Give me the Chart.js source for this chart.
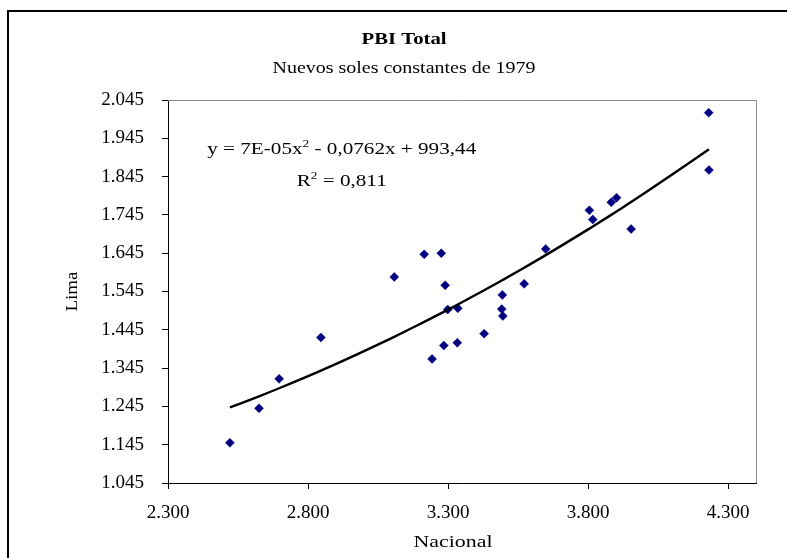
<!DOCTYPE html>
<html><head><meta charset="utf-8">
<script src="https://cdn.jsdelivr.net/npm/chart.js@4.4.1/dist/chart.umd.min.js"></script>
<style>html,body{margin:0;padding:0;background:#fff}canvas{display:block}</style>
</head><body>
<canvas id="c" width="787" height="558"></canvas>
<script>
// ---- Data ----
const nacional = [2521, 2625, 2697, 2846, 3108, 3215, 3276, 3290, 3299, 3335, 3243, 3285, 3333,
                  3429, 3494, 3492, 3496, 3572, 3649, 3805, 3817, 3883, 3902, 3954, 4231, 4232];
const lima     = [1150, 1240, 1317, 1425, 1583, 1642, 1645, 1561, 1498, 1501, 1369, 1404, 1411,
                  1435, 1536, 1499, 1481, 1565, 1656, 1757, 1733, 1778, 1790, 1708, 2012, 1862];
const xTicks = [2300, 2800, 3300, 3800, 4300];
const xTickLabels = ['2.300', '2.800', '3.300', '3.800', '4.300'];
const yTicks = [1045, 1145, 1245, 1345, 1445, 1545, 1645, 1745, 1845, 1945, 2045];
const yTickLabels = ['1.045', '1.145', '1.245', '1.345', '1.445', '1.545', '1.645', '1.745', '1.845', '1.945', '2.045'];
const chartTitle = 'PBI Total';
const chartSubtitle = 'Nuevos soles constantes de 1979';
const xTitle = 'Nacional';
const yTitle = 'Lima';
const eqParts = ['y = 7E-05x', '2', ' - 0,0762x + 993,44'];
const r2Parts = ['R', '2', ' = 0,811'];

// ---- Polynomial (order 2) least-squares trendline, as the spreadsheet computes it ----
function quadFit(xs, ys) {
  let S = [0,0,0,0,0], T = [0,0,0];
  for (let i = 0; i < xs.length; i++) {
    const x = xs[i], y = ys[i];
    let p = 1;
    for (let k = 0; k <= 4; k++) { S[k] += p; if (k <= 2) T[k] += p * y; p *= x; }
  }
  const A = [[S[0],S[1],S[2],T[0]],[S[1],S[2],S[3],T[1]],[S[2],S[3],S[4],T[2]]];
  for (let i = 0; i < 3; i++) {
    for (let j = i + 1; j < 3; j++) {
      const f = A[j][i] / A[i][i];
      for (let k = i; k < 4; k++) A[j][k] -= f * A[i][k];
    }
  }
  const c = [0,0,0];
  for (let i = 2; i >= 0; i--) {
    let s = A[i][3];
    for (let k = i + 1; k < 3; k++) s -= A[i][k] * c[k];
    c[i] = s / A[i][i];
  }
  return c;
}
const coef = quadFit(nacional, lima);
const trendX = nacional.slice().sort((a, b) => a - b);
const trendPts = trendX.map(x => ({ x: x, y: coef[0] + coef[1] * x + coef[2] * x * x }));

const FONT = '"Liberation Serif", "Times New Roman", serif';

// draw text centred at (cx, cy), stretched horizontally to a given width
function stretchText(ctx, text, cx, cy, font, width, rot) {
  ctx.save();
  ctx.font = font;
  const w = ctx.measureText(text).width;
  ctx.translate(cx, cy);
  if (rot) ctx.rotate(rot);
  ctx.scale(width / w, 1);
  ctx.textAlign = 'center';
  ctx.textBaseline = 'middle';
  ctx.fillText(text, 0, 0);
  ctx.restore();
}
// text with a superscript, stretched horizontally, baseline at cy
function supText(ctx, parts, cx, cy, size, supSize, width) {
  ctx.save();
  ctx.textBaseline = 'alphabetic';
  ctx.textAlign = 'left';
  ctx.font = size + 'px ' + FONT;
  const w0 = ctx.measureText(parts[0]).width, w2 = ctx.measureText(parts[2]).width;
  ctx.font = supSize + 'px ' + FONT;
  const w1 = ctx.measureText(parts[1]).width;
  const total = w0 + w1 + w2;
  ctx.translate(cx, cy);
  ctx.scale(width / total, 1);
  let x = -total / 2;
  ctx.font = size + 'px ' + FONT;
  ctx.fillText(parts[0], x, 0); x += w0;
  ctx.font = supSize + 'px ' + FONT;
  ctx.fillText(parts[1], x, -7); x += w1;
  ctx.font = size + 'px ' + FONT;
  ctx.fillText(parts[2], x, 0);
  ctx.restore();
}

const decor = {
  id: 'decor',
  beforeDraw(chart) {
    const ctx = chart.ctx;
    ctx.save();
    ctx.fillStyle = '#fff';
    ctx.fillRect(0, 0, chart.width, chart.height);
    ctx.restore();
  },
  beforeDatasetsDraw(chart) {
    const ctx = chart.ctx, a = chart.chartArea;
    ctx.save();
    ctx.strokeStyle = '#8c8c8c';
    ctx.lineWidth = 1;
    ctx.beginPath();
    ctx.moveTo(a.left, a.top + 0.5);
    ctx.lineTo(a.right + 0.5, a.top + 0.5);
    ctx.lineTo(a.right + 0.5, a.bottom);
    ctx.stroke();
    ctx.restore();
  },
  afterDraw(chart) {
    const ctx = chart.ctx, a = chart.chartArea;
    ctx.save();
    ctx.strokeStyle = '#000';
    ctx.lineWidth = 2;
    ctx.strokeRect(8, 11, 800, 600);
    ctx.fillStyle = '#000';
    stretchText(ctx, chartTitle, 404, 40, 'bold 17px ' + FONT, 85);
    stretchText(ctx, chartSubtitle, 404, 69, '16px ' + FONT, 263);
    stretchText(ctx, xTitle, 453, 543, '17px ' + FONT, 79);
    stretchText(ctx, yTitle, 72.5, (a.top + a.bottom) / 2, '17px ' + FONT, 40, -Math.PI / 2);
    supText(ctx, eqParts, 341.7, 154, 17.5, 11, 269);
    supText(ctx, r2Parts, 341.7, 186, 17.5, 11, 90);
    ctx.restore();
  }
};

new Chart(document.getElementById('c'), {
  type: 'scatter',
  data: {
    datasets: [
      {
        label: 'Lima vs Nacional',
        data: nacional.map((x, i) => ({ x: x, y: lima[i] })),
        pointStyle: 'rectRot',
        pointRadius: 4.5,
        pointBackgroundColor: '#000080',
        pointBorderColor: '#000080',
        pointBorderWidth: 0.5,
        order: 1
      },
      {
        label: 'Polinómica',
        type: 'line',
        data: trendPts,
        borderColor: '#000',
        borderWidth: 2.4,
        pointRadius: 0,
        cubicInterpolationMode: 'monotone',
        fill: false,
        order: 0
      }
    ]
  },
  options: {
    responsive: false,
    animation: false,
    devicePixelRatio: 1,
    layout: { padding: { left: 0, top: 100, right: 31, bottom: 0 } },
    plugins: { legend: { display: false }, tooltip: { enabled: false }, title: { display: false } },
    scales: {
      x: {
        type: 'linear',
        min: 2300, max: 4400,
        afterBuildTicks: s => { s.ticks = xTicks.map(v => ({ value: v })); },
        afterFit: s => { s.height = 75; },
        ticks: {
          callback: v => xTickLabels[xTicks.indexOf(v)],
          font: { family: FONT, size: 19 }, color: '#000', padding: 13, maxRotation: 0, autoSkip: false
        },
        grid: { drawOnChartArea: false, drawTicks: true, tickLength: 6, color: '#000' },
        border: { display: true, color: '#000', width: 1 }
      },
      y: {
        type: 'linear',
        min: 1045, max: 2045,
        afterBuildTicks: s => { s.ticks = yTicks.map(v => ({ value: v })); },
        afterFit: s => { s.width = 168; },
        ticks: {
          callback: v => yTickLabels[yTicks.indexOf(v)],
          font: { family: FONT, size: 19 }, color: '#000', padding: 18, autoSkip: false
        },
        grid: { drawOnChartArea: false, drawTicks: true, tickLength: 6, color: '#000' },
        border: { display: true, color: '#000', width: 1 }
      }
    }
  },
  plugins: [decor]
});
</script>
</body></html>
